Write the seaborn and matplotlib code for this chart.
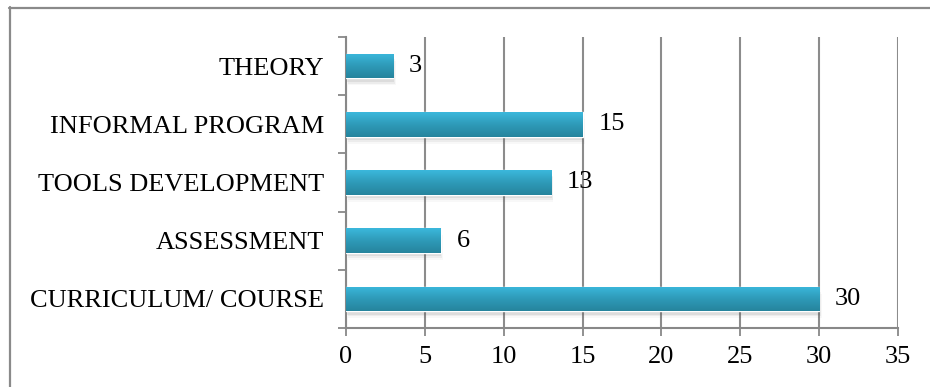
import numpy as np
import pandas as pd
import matplotlib
matplotlib.use("Agg")
import matplotlib.pyplot as plt
import seaborn as sns
from matplotlib.colors import LinearSegmentedColormap
from matplotlib.patches import Rectangle
from matplotlib.lines import Line2D

categories = ["THEORY", "INFORMAL PROGRAM", "TOOLS DEVELOPMENT", "ASSESSMENT", "CURRICULUM/ COURSE"]
counts = [3, 15, 13, 6, 30]
x_ticks = [0, 5, 10, 15, 20, 25, 30, 35]

df = pd.DataFrame({"category": categories, "count": counts})

sns.set_theme(style="white")
plt.rcParams["font.family"] = ["Liberation Serif", "DejaVu Serif"]

FS = 19

fig = plt.figure(figsize=(9.3, 3.87), dpi=100)
ax = fig.add_axes([346 / 930, 1 - 328 / 387, (898 - 346) / 930, (328 - 37) / 387])

sns.barplot(data=df, y="category", x="count", orient="h", width=0.42,
            color="#33abcc", ax=ax, zorder=3)

grad = LinearSegmentedColormap.from_list("g", ["#3bb8dc", "#2e9ab8", "#26849d"])
g = np.linspace(0, 1, 64).reshape(-1, 1)
for p in list(ax.patches):
    x0, y0 = p.get_x(), p.get_y()
    w, h = p.get_width(), p.get_height()
    for i, a in enumerate([0.10, 0.07, 0.04]):
        sh = Rectangle((x0 + 0.05 + 0.05 * i, y0 + 0.06 + 0.03 * i), w, h,
                       facecolor="#555555", edgecolor="none", alpha=a, zorder=2)
        ax.add_patch(sh)
    im = ax.imshow(g, cmap=grad, aspect="auto", extent=(x0, x0 + w, y0 + h, y0),
                   zorder=3.5, interpolation="bicubic")
    im.set_clip_path(p)

for i, v in enumerate(counts):
    ax.text(v + 1.0, i, str(v), va="center", ha="left", fontsize=FS, color="black", zorder=5)

ax.set_xlim(0, 35)
ax.set_ylim(4.5, -0.5)
ax.set_xticks(x_ticks)
ax.set_xticklabels([str(t) for t in x_ticks])
ax.set_yticks(np.arange(-0.5, 5.0, 1.0))
ax.set_yticklabels([])
ax.set_yticks(np.arange(len(categories)), minor=True)
ax.set_yticklabels(categories, minor=True)
ax.tick_params(axis="y", which="major", length=6, width=1.3, color="#888888", direction="out", left=True)
ax.tick_params(axis="y", which="minor", length=0, pad=16, labelsize=FS, labelcolor="black")
ax.tick_params(axis="x", which="major", length=6, width=1.3, color="#888888", direction="out",
               bottom=True, pad=7, labelsize=FS, labelcolor="black")
ax.set_xlabel("")
ax.set_ylabel("")
ax.grid(axis="x", color="#8c8c8c", linewidth=1.5, zorder=0)
ax.grid(axis="y", visible=False)
ax.set_axisbelow(True)
for s in ["top", "right"]:
    ax.spines[s].set_visible(False)
for s in ["left", "bottom"]:
    ax.spines[s].set_color("#888888")
    ax.spines[s].set_linewidth(1.5)

fig.add_artist(Line2D([9 / 930, 1.0], [1 - 7.5 / 387, 1 - 7.5 / 387], transform=fig.transFigure,
                      color="#8a8a8a", linewidth=1.6))
fig.add_artist(Line2D([9.5 / 930, 9.5 / 930], [0, 1 - 7 / 387], transform=fig.transFigure,
                      color="#8a8a8a", linewidth=1.6))

fig.savefig("out.png", dpi=100)
